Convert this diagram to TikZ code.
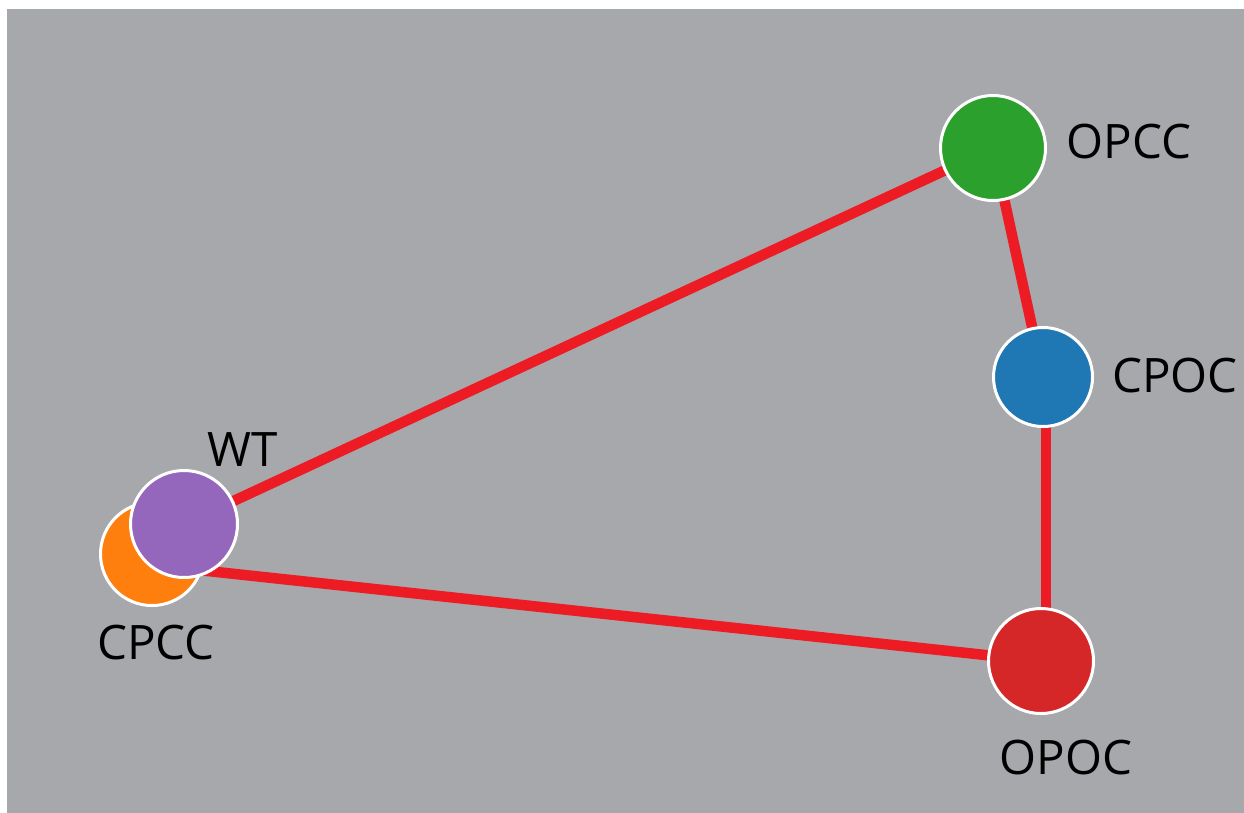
\documentclass[tikz,border=0pt]{standalone}
\usepackage{fontspec}
\setmainfont{Open Sans}
\pgfdeclarelayer{back}
\pgfdeclarelayer{edges}
\pgfsetlayers{back,edges,main}
\definecolor{panel}{HTML}{A7A8AB}
\definecolor{link}{HTML}{ED1C24}
\definecolor{cgreen}{HTML}{2CA02C}
\definecolor{cblue}{HTML}{1F77B4}
\definecolor{cred}{HTML}{D62728}
\definecolor{corange}{HTML}{FF7F0E}
\definecolor{cpurple}{HTML}{9467BD}
\tikzset{
  state/.style={circle, draw=white, line width=3pt, inner sep=0pt},
  lbl/.style={inner sep=0pt, font=\fontsize{47.5}{52}\selectfont},
  linkline/.style={draw=link, line width=10.5pt}
}
\begin{document}
\begin{tikzpicture}[x=1pt, y=-1pt]
  \useasboundingbox (0,0) rectangle (1244,812);
  \begin{pgfonlayer}{back}
    \fill[white] (0,0) rectangle (1244,812);
    \fill[panel] (7,9) rectangle (1250,818);
  \end{pgfonlayer}

  % states
  \node[state, fill=cgreen, minimum size=105pt] (opcc) at (993,148) {};
  \node[state, fill=cblue, minimum size=99pt] (cpoc) at (1043,377) {};
  \node[state, fill=cred, minimum size=105pt] (opoc) at (1041,661) {};
  \node[state, fill=corange, minimum size=103pt] (cpcc) at (152,554) {};
  \node[state, fill=cpurple, minimum size=107pt] (wt) at (184,524) {};

  % labels
  \node[lbl] (lopcc) at (1129,142) {OPCC};
  \node[lbl] (lcpoc) at (1175,376) {CPOC};
  \node[lbl] (lwt) at (243,450) {WT};
  \node[lbl] (lcpcc) at (156,643) {CPCC};
  \node[lbl] (lopoc) at (1066,757) {OPOC};

  % links between states
  \begin{pgfonlayer}{edges}
    \draw[linkline] (wt.center) -- (opcc.center);
    \draw[linkline] (opcc.center) -- (cpoc.center);
    \draw[linkline] ([xshift=3pt]cpoc.center) -- ([xshift=5pt]opoc.center);
    \draw[linkline] ([yshift=-11pt]cpcc.center) -- (opoc.center);
  \end{pgfonlayer}
\end{tikzpicture}
\end{document}
